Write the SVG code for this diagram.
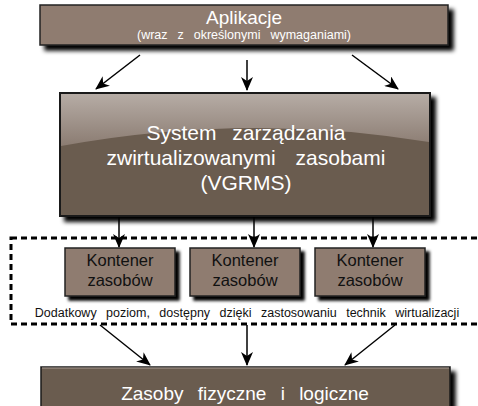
<svg xmlns="http://www.w3.org/2000/svg" width="478" height="406" viewBox="0 0 478 406">
<defs>
<filter id="sh" x="-10%" y="-20%" width="130%" height="150%">
<feGaussianBlur in="SourceAlpha" stdDeviation="2.2"/>
<feOffset dx="5" dy="5" result="b"/>
<feMerge><feMergeNode/><feMergeNode in="SourceGraphic"/></feMerge>
</filter>
<filter id="sh2" x="-10%" y="-20%" width="130%" height="150%">
<feGaussianBlur in="SourceAlpha" stdDeviation="1.5"/>
<feOffset dx="4" dy="4" result="b"/>
<feMerge><feMergeNode/><feMergeNode in="SourceGraphic"/></feMerge>
</filter>
<linearGradient id="gloss" x1="0" y1="0" x2="0" y2="1">
<stop offset="0" stop-color="#b6aca5"/>
<stop offset="1" stop-color="#8b7c72"/>
</linearGradient>
<marker id="ah" viewBox="0 0 14 12" refX="13" refY="6" markerWidth="14" markerHeight="12" markerUnits="userSpaceOnUse" orient="auto">
<path d="M0,0 L14,6 L0,12 L4,6 Z" fill="#000"/>
</marker>
<style>
.light{fill:#8f7b6f;stroke:#222;stroke-width:1.5}
.dark{fill:#6b5b4f;stroke:#1a1a1a;stroke-width:2}
.wt{fill:#ffffff;font-family:"Liberation Sans",Arial,sans-serif;text-anchor:middle}
.bt{fill:#111;font-family:"Liberation Sans",Arial,sans-serif;text-anchor:middle}
.kt{fill:#111;font-family:"Liberation Sans",Arial,sans-serif;text-anchor:middle;font-size:16.5px}
.arr{stroke:#000;stroke-width:1.5;fill:none;marker-end:url(#ah)}
</style>
</defs>
<rect width="478" height="406" fill="#fff"/>

<g id="virt-layer">
<rect x="11" y="238" width="480" height="86" fill="none" stroke="#000" stroke-width="3" stroke-dasharray="6,4"/>
<text class="bt" x="247" y="317" font-size="12.5" word-spacing="6">Dodatkowy poziom, dostępny dzięki zastosowaniu technik wirtualizacji</text>
</g>

<g id="aplikacje">
<rect class="light" x="40" y="5" width="408" height="40" filter="url(#sh)"/>
<text class="wt" x="244" y="24" font-size="19">Aplikacje</text>
<text class="wt" x="244" y="39" font-size="12.5" word-spacing="6.5">(wraz z określonymi wymaganiami)</text>
</g>

<g id="vgrms">
<rect class="dark" x="60" y="93" width="370" height="123" filter="url(#sh)"/>
<path d="M61,94 H429 V142 Q245,112 61,146 Z" fill="url(#gloss)"/>
<rect x="60" y="93" width="370" height="123" fill="none" stroke="#1a1a1a" stroke-width="2"/>
<text class="wt" x="246" y="140" font-size="21" word-spacing="10">System zarządzania</text>
<text class="wt" x="246" y="165" font-size="21" word-spacing="14">zwirtualizowanymi zasobami</text>
<text class="wt" x="246" y="190" font-size="21">(VGRMS)</text>
</g>

<g id="kontener1">
<rect class="light" x="65" y="248" width="110" height="48" filter="url(#sh2)"/>
<text class="kt" x="120" y="266">Kontener</text>
<text class="kt" x="120" y="286">zasobów</text>
</g>
<g id="kontener2">
<rect class="light" x="190" y="248" width="110" height="48" filter="url(#sh2)"/>
<text class="kt" x="245" y="266">Kontener</text>
<text class="kt" x="245" y="286">zasobów</text>
</g>
<g id="kontener3">
<rect class="light" x="315" y="248" width="110" height="48" filter="url(#sh2)"/>
<text class="kt" x="370" y="266">Kontener</text>
<text class="kt" x="370" y="286">zasobów</text>
</g>

<g id="zasoby">
<rect class="dark" x="41" y="367" width="409" height="50" filter="url(#sh)" style="stroke-width:1.5"/>
<line x1="42" y1="368" x2="449" y2="368" stroke="#a89c94" stroke-width="1"/>
<text class="wt" x="245" y="400" font-size="19" word-spacing="9">Zasoby fizyczne i logiczne</text>
</g>

<g id="connectors">
<line class="arr" x1="140" y1="55" x2="96" y2="89"/>
<line class="arr" x1="247" y1="60" x2="247" y2="90"/>
<line class="arr" x1="352" y1="55" x2="398" y2="89"/>
<line class="arr" x1="119" y1="217" x2="119" y2="247"/>
<line class="arr" x1="254" y1="217" x2="254" y2="247"/>
<line class="arr" x1="373" y1="217" x2="373" y2="247"/>
<line class="arr" x1="100" y1="325" x2="150" y2="365"/>
<line class="arr" x1="247" y1="325" x2="247" y2="365"/>
<line class="arr" x1="395" y1="325" x2="345" y2="365"/>
</g>
</svg>
